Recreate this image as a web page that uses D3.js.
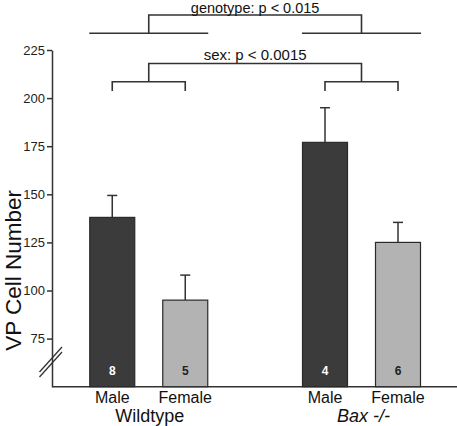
<!DOCTYPE html>
<html><head><meta charset="utf-8">
<script src="https://cdn.jsdelivr.net/npm/d3@7"></script>
<style>body{margin:0;background:#fff}svg{display:block;font-family:Arial,"Liberation Sans",sans-serif}</style>
</head><body><svg id="c" width="457" height="426"></svg>
<script>
const genotypes = ["Wildtype", "Bax -/-"];
const sexes = ["Male", "Female"];
const means = [[138, 95], [177, 125]];
const sems = [[11.4, 13], [18, 10.4]];
const ns = [[8, 5], [4, 6]];
const yTicks = [75, 100, 125, 150, 175, 200, 225];
const genotypeText = "genotype: p < 0.015";
const sexText = "sex: p < 0.0015";

const svg = d3.select("#c");
const y = d3.scaleLinear().domain([50, 225]).range([386.7, 50]);
const xg = d3.scalePoint().domain(genotypes).range([148.75, 361.5]);
const xs = d3.scalePoint().domain(sexes).range([-36.5, 36.5]);
const barW = 45;
const ink = "#333";

// axes
const yAxis = svg.append("g").attr("transform", "translate(52,0)")
  .call(d3.axisLeft(y).tickValues(yTicks).tickSize(5).tickPadding(2).tickSizeOuter(0));
yAxis.select(".domain").attr("stroke", ink).attr("stroke-width", 1.5);
yAxis.selectAll(".tick line").attr("stroke", ink).attr("stroke-width", 1.5);
yAxis.selectAll(".tick text").attr("font-size", 13).attr("fill", "#222")
  .attr("font-family", "Arial, 'Liberation Sans', sans-serif");
svg.append("line").attr("x1", 52).attr("x2", 457).attr("y1", y(50)).attr("y2", y(50))
  .attr("stroke", ink).attr("stroke-width", 1.5);
// break marks
[0, 5].forEach(o => {
  svg.append("line").attr("x1", 39.5).attr("y1", 372 + o).attr("x2", 62).attr("y2", 347 + o)
    .attr("stroke", ink).attr("stroke-width", 1.3);
});

svg.append("text").attr("transform", `translate(20.5,${(y(50)+y(225))/2 + 52}) rotate(-90)`)
  .attr("text-anchor", "middle").attr("font-size", 22.5).attr("fill", "#111")
  .text("VP Cell Number");

// bars
const data = [];
genotypes.forEach((g, i) => sexes.forEach((s, j) => data.push({g, s, m: means[i][j], e: sems[i][j], n: ns[i][j]})));
const cx = d => xg(d.g) + xs(d.s);

svg.selectAll(".err").data(data).join("line")
  .attr("x1", cx).attr("x2", cx).attr("y1", d => y(d.m)).attr("y2", d => y(d.m + d.e))
  .attr("stroke", ink).attr("stroke-width", 1.5);
svg.selectAll(".cap").data(data).join("line")
  .attr("x1", d => cx(d) - 5).attr("x2", d => cx(d) + 5)
  .attr("y1", d => y(d.m + d.e)).attr("y2", d => y(d.m + d.e))
  .attr("stroke", ink).attr("stroke-width", 1.5);
svg.selectAll(".bar").data(data).join("rect")
  .attr("x", d => cx(d) - barW/2).attr("width", barW)
  .attr("y", d => y(d.m)).attr("height", d => y(50) - y(d.m))
  .attr("fill", d => d.s === "Male" ? "#3b3b3b" : "#b3b3b3")
  .attr("stroke", "#2a2a2a").attr("stroke-width", 1.2);
svg.selectAll(".n").data(data).join("text")
  .attr("x", cx).attr("y", 375).attr("text-anchor", "middle")
  .attr("font-size", 12).attr("font-weight", "bold")
  .attr("fill", d => d.s === "Male" ? "#fff" : "#222").text(d => d.n);

// x labels
svg.selectAll(".sx").data(data).join("text")
  .attr("x", cx).attr("y", 403).attr("text-anchor", "middle")
  .attr("font-size", 16).attr("fill", "#111").text(d => d.s);
svg.selectAll(".gx").data(genotypes).join("text")
  .attr("x", d => xg(d)).attr("y", 421.5).attr("text-anchor", "middle")
  .attr("font-size", 18).attr("fill", "#111")
  .attr("font-style", d => d === "Wildtype" ? "normal" : "italic")
  .attr("dx", d => d === "Wildtype" ? 1 : 2).text(d => d);

// brackets
const br = svg.append("g").attr("fill", "none").attr("stroke", ink).attr("stroke-width", 1.6);
const gL = xg(genotypes[0]), gR = xg(genotypes[1]);
br.append("path").attr("d", `M${gL},33 V15 H${gR} V33`);
genotypes.forEach(g => br.append("path").attr("d", `M${xg(g)-59.5},33.3 H${xg(g)+59.5}`));
br.append("path").attr("d", `M${gL},81.7 V63.5 H${gR} V81.7`);
genotypes.forEach(g => br.append("path")
  .attr("d", `M${xg(g)+xs("Male")},91 V81.7 H${xg(g)+xs("Female")} V91`));

svg.append("text").attr("x", (gL+gR)/2).attr("y", 13).attr("text-anchor", "middle")
  .attr("font-size", 14.5).attr("fill", "#111").text(genotypeText);
svg.append("text").attr("x", (gL+gR)/2).attr("y", 60).attr("text-anchor", "middle")
  .attr("font-size", 15).attr("fill", "#111").text(sexText);
</script></body></html>
